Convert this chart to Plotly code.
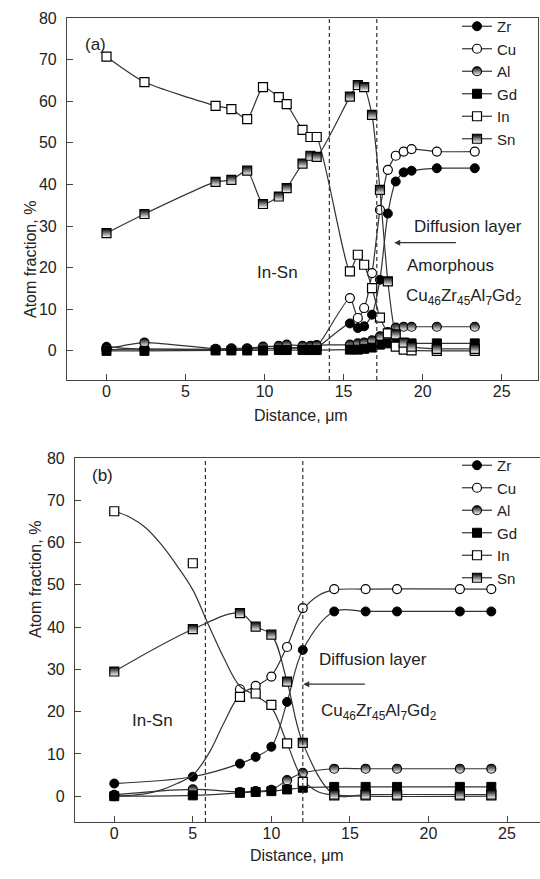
import plotly.graph_objects as go

# ---------------- data: panel (a) ----------------
X_a = [0, 2.4, 6.9, 7.9, 8.9, 9.9, 10.9, 11.4, 12.4, 12.9, 13.3, 15.4, 15.9, 16.3, 16.8, 17.3, 17.8, 18.3, 18.8, 19.3, 20.9, 23.3]
Zr_a = [1.0, 0.3, 0.4, 0.4, 0.5, 0.5, 0.6, 0.6, 0.7, 0.7, 0.8, 6.6, 5.5, 5.9, 8.7, 17.1, 33.0, 40.7, 42.9, 43.3, 43.9, 43.9]
Cu_a = [0.3, 0.5, 0.3, 0.3, 0.4, 0.6, 0.6, 0.8, 0.8, 0.9, 1.0, 12.7, 7.9, 10.3, 18.7, 33.9, 43.5, 46.9, 47.9, 48.5, 47.9, 47.9]
Al_a = [0.5, 2.0, 0.5, 0.6, 0.6, 1.0, 1.2, 1.5, 1.2, 1.2, 1.4, 1.5, 1.8, 2.0, 2.5, 3.5, 4.5, 5.6, 5.8, 5.8, 5.8, 5.8]
Gd_a = [0.0, 0.0, 0.1, 0.1, 0.1, 0.1, 0.2, 0.2, 0.2, 0.2, 0.2, 0.3, 0.3, 0.5, 0.8, 1.5, 1.8, 1.8, 1.8, 1.8, 1.8, 1.8]
In_a = [70.7, 64.6, 58.9, 58.1, 55.7, 63.4, 61.0, 59.3, 53.1, 51.4, 51.4, 19.1, 23.1, 20.7, 15.1, 8.0, 4.2, 1.0, 0.3, 0.1, 0.0, 0.0]
Sn_a = [28.3, 32.9, 40.6, 41.1, 43.3, 35.3, 37.1, 39.1, 45.0, 46.9, 46.6, 61.1, 63.9, 63.4, 56.7, 38.7, 16.7, 4.0, 2.0, 1.0, 0.5, 0.5]
bounds_a = [14.1, 17.1]

# ---------------- data: panel (b) ----------------
X_b = [0, 5, 8, 9, 10, 11, 12, 14, 16, 18, 22, 24]
Zr_b = [3.0, 4.6, 7.7, 9.3, 11.7, 22.3, 34.6, 43.7, 43.7, 43.7, 43.7, 43.7]
Cu_b = [0.0, 0.5, 25.3, 26.1, 28.3, 35.3, 44.5, 49.0, 49.0, 49.0, 49.0, 49.0]
Al_b = [0.3, 1.6, 1.0, 1.2, 1.5, 3.8, 5.5, 6.5, 6.5, 6.5, 6.5, 6.5]
Gd_b = [0.0, 0.2, 0.8, 1.0, 1.2, 1.6, 2.0, 2.2, 2.2, 2.2, 2.2, 2.2]
In_b = [67.4, 55.1, 23.5, 24.3, 21.6, 12.5, 3.4, 0.2, 0.2, 0.2, 0.2, 0.2]
Sn_b = [29.5, 39.5, 43.3, 40.1, 38.2, 27.1, 12.6, 0.4, 0.4, 0.4, 0.4, 0.4]
# fitted curves (b)
fitX_b = [0, 1, 2, 3, 4, 5, 6, 7, 8, 9, 10, 11, 12, 13, 14, 16, 24]
fitIn_b = [67.4, 66.0, 63.5, 59.5, 54.5, 48.8, 40.5, 32.5, 26.0, 23.8, 21.0, 12.5, 4.0, 1.0, 0.3, 0.0, 0.0]
fitCu_b = [0.0, 0.2, 0.6, 1.5, 3.0, 5.0, 10.0, 17.5, 24.0, 26.0, 28.5, 35.5, 44.0, 47.5, 48.8, 49.0, 49.0]
bounds_b = [5.8, 12.0]

names = ["Zr", "Cu", "Al", "Gd", "In", "Sn"]

LINE = "#333333"
MS = 9


def marker_style(name):
    if name == "Zr":
        return dict(symbol="circle", color="black", size=MS, line=dict(color="black", width=1))
    if name == "Cu":
        return dict(symbol="circle", color="white", size=MS, line=dict(color="black", width=1.2))
    if name == "Al":
        return dict(symbol="circle", color="black", size=MS, line=dict(color="black", width=1.2),
                    gradient=dict(type="vertical", color="white"))
    if name == "Gd":
        return dict(symbol="square", color="black", size=MS, line=dict(color="black", width=1))
    if name == "In":
        return dict(symbol="square", color="white", size=MS, line=dict(color="black", width=1.2))
    return dict(symbol="square", color="black", size=MS, line=dict(color="black", width=1.2),
                gradient=dict(type="vertical", color="white"))


fig = go.Figure()

# panel (a)
series_a = dict(Zr=Zr_a, Cu=Cu_a, Al=Al_a, Gd=Gd_a, In=In_a, Sn=Sn_a)
for i, n in enumerate(names):
    fig.add_trace(go.Scatter(
        x=X_a, y=series_a[n], name=n, mode="lines+markers",
        line=dict(color=LINE, width=1.2, shape="spline", smoothing=0.6),
        marker=marker_style(n), xaxis="x", yaxis="y", legend="legend", legendrank=i + 1))

# panel (b)
series_b = dict(Zr=Zr_b, Cu=Cu_b, Al=Al_b, Gd=Gd_b, In=In_b, Sn=Sn_b)
fits_b = dict(Cu=fitCu_b, In=fitIn_b)
for i, n in enumerate(names):
    if n in fits_b:
        fig.add_trace(go.Scatter(
            x=fitX_b, y=fits_b[n], mode="lines", showlegend=False,
            line=dict(color=LINE, width=1.2, shape="spline", smoothing=1.0),
            xaxis="x2", yaxis="y2", hoverinfo="skip"))
        fig.add_trace(go.Scatter(
            x=X_b, y=series_b[n], mode="markers", showlegend=False,
            marker=marker_style(n), xaxis="x2", yaxis="y2"))
        fig.add_trace(go.Scatter(
            x=[None], y=[None], name=n, mode="lines+markers",
            line=dict(color=LINE, width=1.2), marker=marker_style(n),
            xaxis="x2", yaxis="y2", legend="legend2", legendrank=i + 1))
    else:
        fig.add_trace(go.Scatter(
            x=X_b, y=series_b[n], name=n, mode="lines+markers",
            line=dict(color=LINE, width=1.2, shape="spline", smoothing=1.0),
            marker=marker_style(n), xaxis="x2", yaxis="y2", legend="legend2", legendrank=i + 1))

W, H = 540, 879
FONT = "Liberation Sans, Arial, sans-serif"
TXT = "#222222"

axis_common = dict(showline=True, linecolor="#444444", linewidth=1.2, mirror=True,
                   ticks="inside", ticklen=6, tickcolor="#444444", showgrid=False,
                   zeroline=False, tickfont=dict(size=16, color=TXT, family=FONT))

DASH = "4px,3px"
shapes = []
for b in bounds_a:
    shapes.append(dict(type="line", xref="x", yref="y domain", x0=b, x1=b, y0=0, y1=1,
                       line=dict(color="#333333", width=1.2, dash=DASH)))
for b in bounds_b:
    shapes.append(dict(type="line", xref="x2", yref="y2 domain", x0=b, x1=b, y0=0, y1=1,
                       line=dict(color="#333333", width=1.2, dash=DASH)))

af = dict(size=17, color=TXT, family=FONT)
tf = dict(size=16, color=TXT, family=FONT)
sub = "Cu<sub>46</sub>Zr<sub>45</sub>Al<sub>7</sub>Gd<sub>2</sub>"
annotations = [
    # axis titles
    dict(text="Atom fraction, %", xref="paper", yref="paper", x=20 / W, y=1 - 199 / H,
         textangle=-90, showarrow=False, font=tf),
    dict(text="Distance, \u03bcm", xref="paper", yref="paper", x=301 / W, y=1 - 415 / H,
         showarrow=False, font=tf),
    dict(text="Atom fraction, %", xref="paper", yref="paper", x=25 / W, y=1 - 640 / H,
         textangle=-90, showarrow=False, font=tf),
    dict(text="Distance, \u03bcm", xref="paper", yref="paper", x=297 / W, y=1 - 866 / H,
         showarrow=False, font=tf),
    # panel labels
    dict(text="(a)", xref="paper", yref="paper", x=83 / W, y=1 - 33 / H, showarrow=False, font=af),
    dict(text="(b)", xref="paper", yref="paper", x=90 / W, y=1 - 475 / H, showarrow=False, font=af),
    # panel (a) texts
    dict(text="In-Sn", xref="x", yref="y", x=10.8, y=18.8, showarrow=False, font=af),
    dict(text="Diffusion layer", xref="x", yref="y", x=22.85, y=30.0, showarrow=False, font=af),
    dict(text="", xref="x", yref="y", x=18.2, y=26.0, ax=22.2, ay=26.0, axref="x", ayref="y",
         showarrow=True, arrowhead=2, arrowsize=1, arrowwidth=1.2, arrowcolor="#333333"),
    dict(text="Amorphous", xref="x", yref="y", x=18.9, y=20.5, xanchor="left", showarrow=False, font=af),
    dict(text=sub, xref="x", yref="y", x=18.8, y=13.0, xanchor="left", showarrow=False, font=af),
    # panel (b) texts
    dict(text="In-Sn", xref="x2", yref="y2", x=2.43, y=18.0, showarrow=False, font=af),
    dict(text="Diffusion layer", xref="x2", yref="y2", x=12.88, y=32.4, xanchor="left",
         showarrow=False, font=af),
    dict(text="", xref="x2", yref="y2", x=12.03, y=26.5, ax=16.05, ay=26.5, axref="x2", ayref="y2",
         showarrow=True, arrowhead=2, arrowsize=1, arrowwidth=1.2, arrowcolor="#333333"),
    dict(text=sub, xref="x2", yref="y2", x=13.0, y=20.0, xanchor="left", showarrow=False, font=af),
]

legend_common = dict(xanchor="left", yanchor="top", bgcolor="rgba(0,0,0,0)", borderwidth=0,
                     font=dict(size=15, color=TXT, family=FONT), itemclick=False, itemdoubleclick=False,
                     tracegroupgap=0)

fig.update_layout(
    width=W, height=H, margin=dict(l=0, r=0, t=0, b=0, autoexpand=False),
    paper_bgcolor="white", plot_bgcolor="white",
    font=dict(family=FONT, color=TXT),
    xaxis=dict(domain=[67 / W, 538 / W], range=[-2.5, 27.3], dtick=5, tick0=0, anchor="y",
               ticklabelstandoff=-3, **axis_common),
    yaxis=dict(domain=[1 - 380 / H, 1 - 18 / H], range=[-7, 80], dtick=10, tick0=0, anchor="x",
               ticklabelstandoff=6, **axis_common),
    xaxis2=dict(domain=[75 / W, 1.0], range=[-2.5, 27.1], dtick=5, tick0=0, anchor="y2",
                ticklabelstandoff=-3, **axis_common),
    yaxis2=dict(domain=[1 - 822 / H, 1 - 458 / H], range=[-6.1, 80], dtick=10, tick0=0, anchor="x2",
                ticklabelstandoff=6, **axis_common),
    legend=dict(x=457 / W, y=1 - 10 / H, **legend_common),
    legend2=dict(x=457 / W, y=1 - 449 / H, **legend_common),
    shapes=shapes, annotations=annotations, showlegend=True,
)

fig.write_html("out.html")
